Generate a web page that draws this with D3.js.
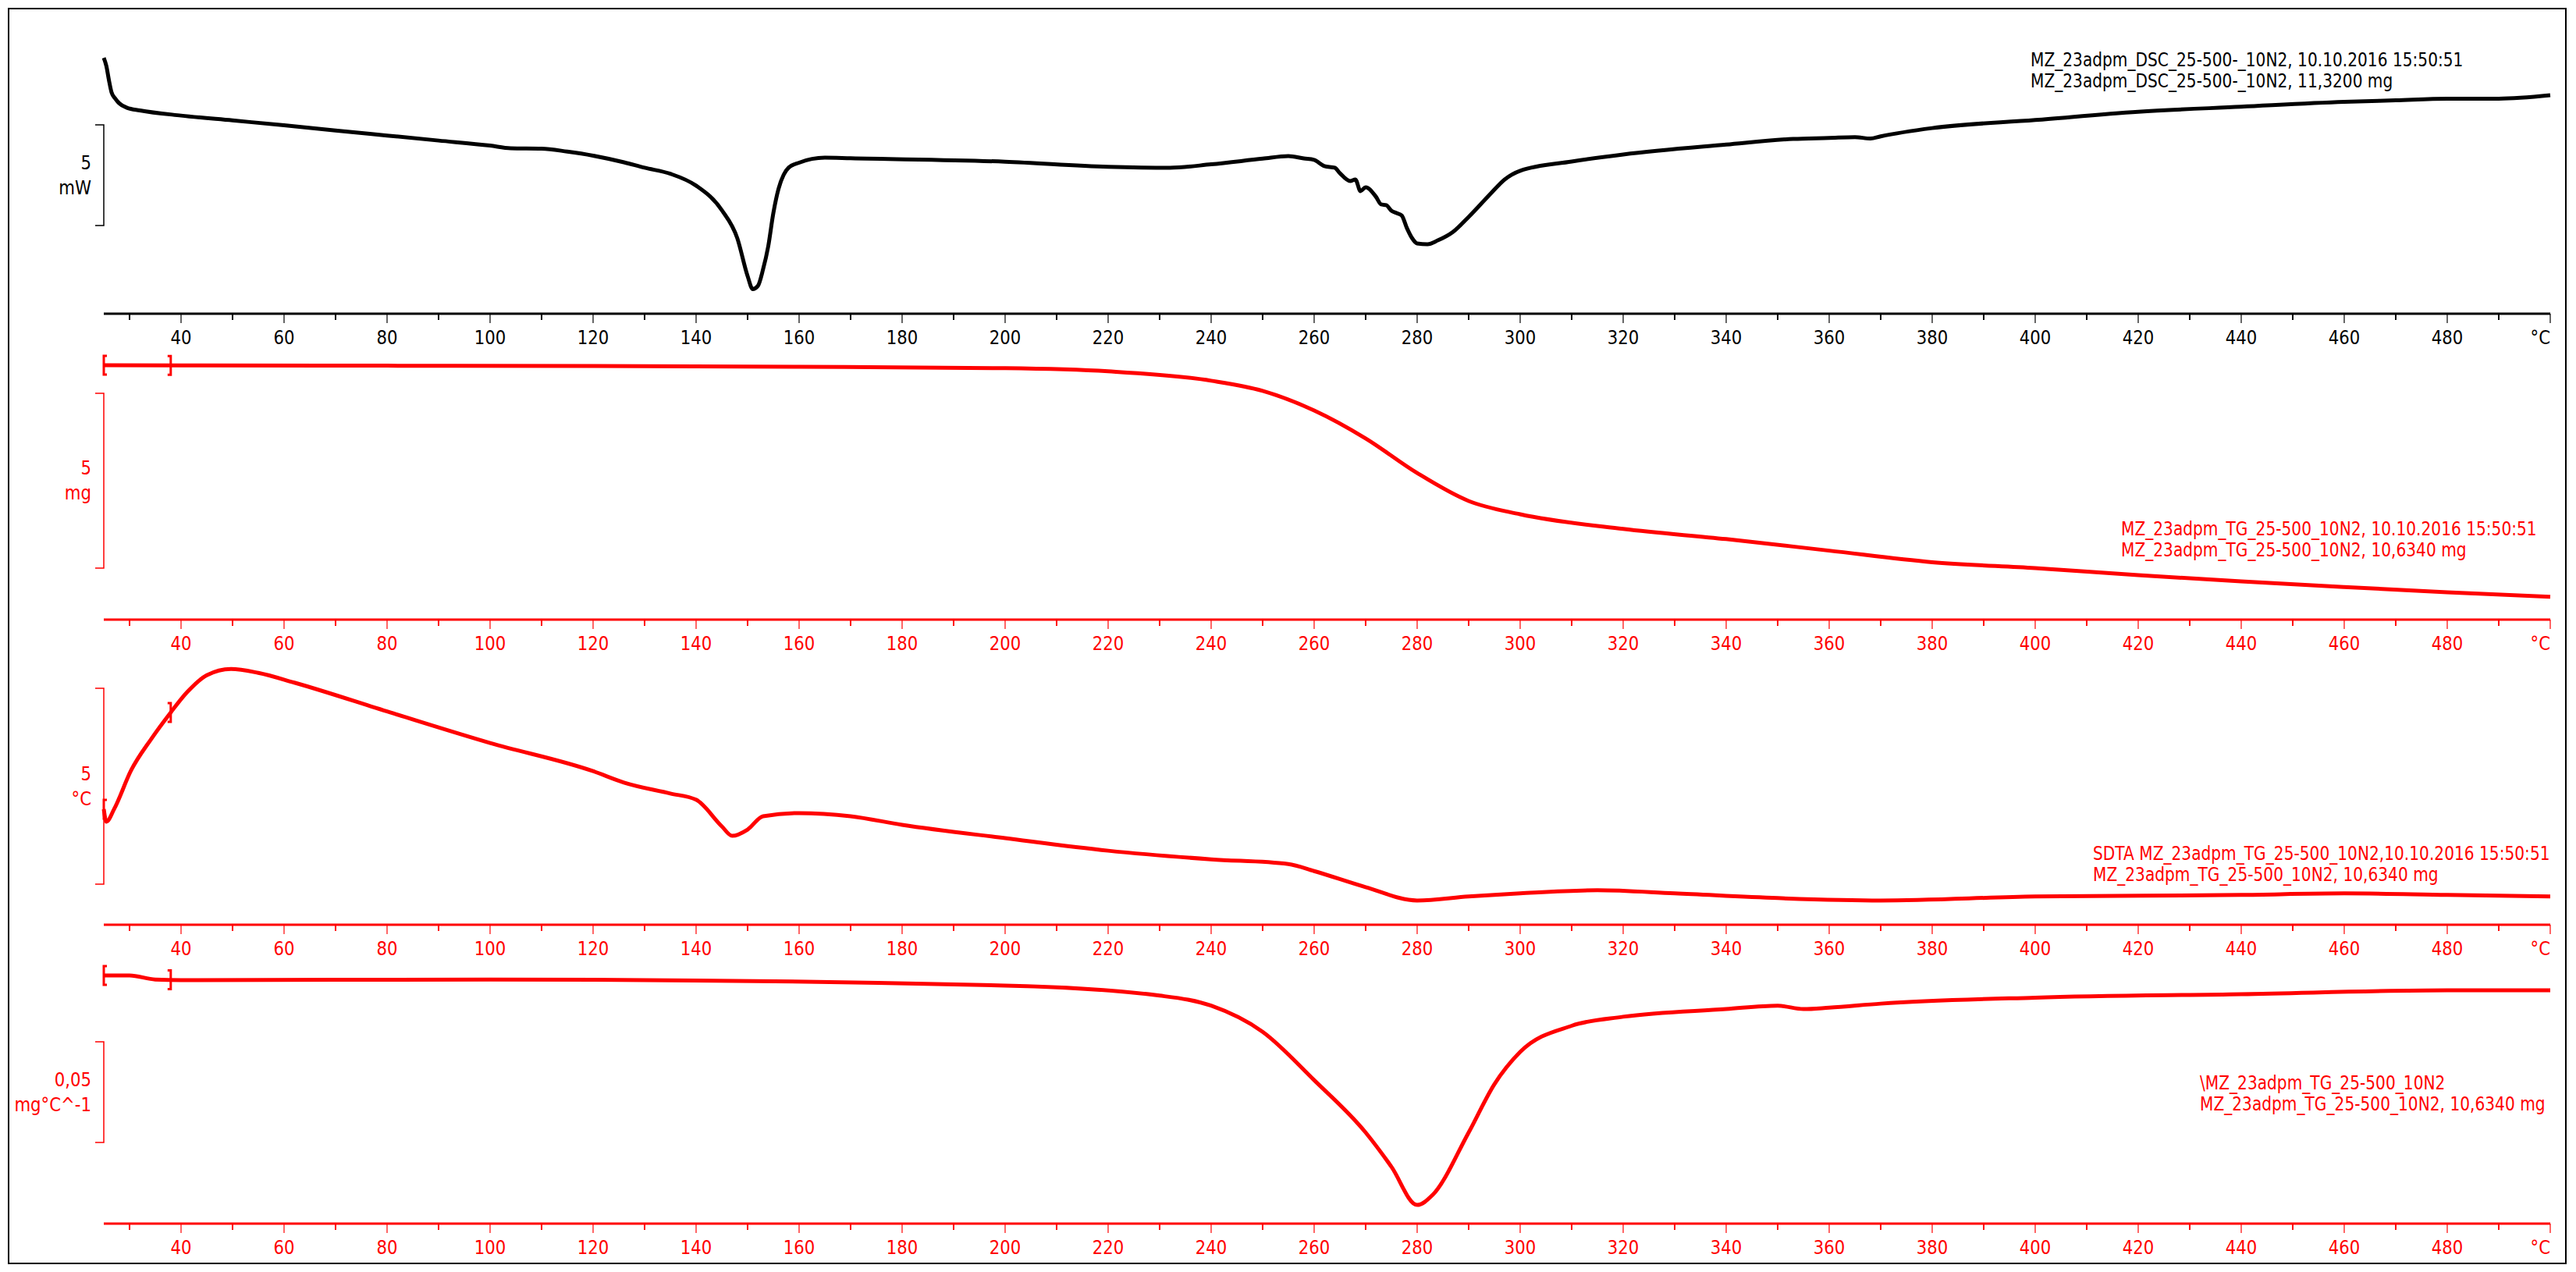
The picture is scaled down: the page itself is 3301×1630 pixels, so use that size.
<!DOCTYPE html>
<html>
<head>
<meta charset="utf-8">
<script src="https://cdn.jsdelivr.net/npm/d3@7"></script>
<style>
  body { margin: 0; background: #fff; }
  text { font-family: "DejaVu Sans", sans-serif; }
</style>
</head>
<body>
<svg id="chart" width="3301" height="1630"></svg>
<script>
// temperature axis
const tempRange = [25, 500];
const majorTicks = d3.range(40, 500, 20);
const minorTicks = d3.range(30, 500, 20);

// DSC heat flow, mW
const dscTemp = [25, 25.5, 26, 26.5, 27.3, 28, 29.5, 32, 40, 50, 60, 70, 80, 90, 100, 104, 110, 115, 120, 126, 130, 135, 140, 145, 148, 150, 151, 152, 153, 154, 155, 156, 157, 158, 160, 165, 170, 200, 220, 232, 240, 250, 255, 258, 260, 262, 264, 265, 267, 268, 269, 270, 272, 273, 274, 275, 276, 277, 278, 279, 280, 282, 284, 287, 290, 294, 297, 300, 310, 320, 340, 353, 360, 365, 368, 370, 380, 400, 420, 440, 460, 470, 480, 490, 500];
const dscValue = [12.71, 12.3, 11.6, 11.0, 10.66, 10.45, 10.23, 10.1, 9.84, 9.6, 9.36, 9.1, 8.85, 8.6, 8.35, 8.22, 8.2, 8.05, 7.85, 7.52, 7.25, 6.95, 6.36, 5.14, 3.75, 1.87, 1.22, 1.38, 2.2, 3.34, 5.0, 6.2, 6.9, 7.26, 7.5, 7.75, 7.72, 7.55, 7.3, 7.25, 7.42, 7.7, 7.83, 7.71, 7.64, 7.33, 7.25, 6.98, 6.59, 6.67, 6.09, 6.28, 5.81, 5.43, 5.39, 5.12, 5.0, 4.88, 4.26, 3.76, 3.49, 3.45, 3.64, 4.07, 4.81, 5.89, 6.67, 7.1, 7.56, 7.91, 8.4, 8.68, 8.73, 8.77, 8.7, 8.81, 9.22, 9.62, 10.03, 10.28, 10.52, 10.6, 10.68, 10.68, 10.85];

// TG mass, mg
const tgTemp = [25, 40, 80, 120, 160, 200, 220, 240, 250, 260, 270, 280, 290, 300, 320, 340, 360, 380, 400, 420, 440, 460, 480, 500];
const tgValue = [10.634, 10.63, 10.62, 10.61, 10.59, 10.55, 10.46, 10.19, 9.9, 9.34, 8.54, 7.55, 6.75, 6.37, 5.95, 5.66, 5.33, 5.0, 4.83, 4.63, 4.45, 4.29, 4.14, 4.01];

// SDTA, °C
const sdtaTemp = [25, 25.5, 27, 30.3, 34.2, 38, 41.2, 45, 49.7, 55, 62, 80.6, 100, 120, 126, 135, 140, 145, 147, 150, 153, 160, 170, 180, 200, 220, 240, 255, 260, 270, 280, 290, 300, 315, 330, 350, 370, 400, 440, 460, 480, 500];
const sdtaValue = [2.95, 2.63, 2.95, 3.94, 4.74, 5.42, 5.94, 6.37, 6.53, 6.43, 6.18, 5.42, 4.64, 3.92, 3.63, 3.35, 3.19, 2.51, 2.27, 2.43, 2.77, 2.85, 2.77, 2.55, 2.21, 1.89, 1.67, 1.55, 1.37, 0.96, 0.62, 0.72, 0.8, 0.88, 0.8, 0.68, 0.62, 0.72, 0.76, 0.8, 0.76, 0.72];

// DTG, mg/°C
const dtgTemp = [25, 30, 35, 40, 100, 200, 230, 240, 250, 260, 270, 275, 280, 283, 290, 295, 300, 310, 320, 340, 350, 355, 360, 370, 400, 440, 480, 500];
const dtgValue = [0, 0, -0.002, -0.0023, -0.002, -0.005, -0.010, -0.015, -0.028, -0.052, -0.078, -0.095, -0.114, -0.109, -0.078, -0.054, -0.038, -0.025, -0.0205, -0.0167, -0.015, -0.0167, -0.016, -0.014, -0.011, -0.0093, -0.0074, -0.0074];

const panels = [
  { temp: dscTemp, val: dscValue, color: "#000", axisY: 402, zeroY: 402, pxPerUnit: 25.8,
    bar: [160, 289], barLabel: ["5", "mW"], brackets: false,
    legend: ["MZ_23adpm_DSC_25-500-_10N2, 10.10.2016 15:50:51", "MZ_23adpm_DSC_25-500-_10N2, 11,3200 mg"], legendX: 2602, legendY: 77 },
  { temp: tgTemp, val: tgValue, color: "#f00", axisY: 794, zeroY: 944.4, pxPerUnit: 44.8,
    bar: [504, 728], barLabel: ["5", "mg"], brackets: true,
    legend: ["MZ_23adpm_TG_25-500_10N2, 10.10.2016 15:50:51", "MZ_23adpm_TG_25-500_10N2, 10,6340 mg"], legendX: 2718, legendY: 678 },
  { temp: sdtaTemp, val: sdtaValue, color: "#f00", axisY: 1185, zeroY: 1185, pxPerUnit: 50.2,
    bar: [882, 1133], barLabel: ["5", "°C"], brackets: true,
    legend: ["SDTA MZ_23adpm_TG_25-500_10N2,10.10.2016 15:50:51", "MZ_23adpm_TG_25-500_10N2, 10,6340 mg"], legendX: 2682, legendY: 1094 },
  { temp: dtgTemp, val: dtgValue, color: "#f00", axisY: 1568, zeroY: 1250, pxPerUnit: 2580,
    bar: [1335, 1464], barLabel: ["0,05", "mg°C^-1"], brackets: true,
    legend: ["\\MZ_23adpm_TG_25-500_10N2", "MZ_23adpm_TG_25-500_10N2, 10,6340 mg"], legendX: 2819, legendY: 1388 }
];

const svg = d3.select("#chart");
const x = d3.scaleLinear().domain(tempRange).range([133, 3268]);

// narrow text, the original uses a condensed face
function addText(g, tx, ty, str, anchor, size, color, sx) {
  return g.append("text")
    .attr("transform", `translate(${tx},${ty}) scale(${sx},1)`)
    .attr("text-anchor", anchor).attr("font-size", size).attr("fill", color).text(str);
}

svg.append("rect").attr("x", 11).attr("y", 11).attr("width", 3277).attr("height", 1608)
  .attr("fill", "none").attr("stroke", "#000").attr("stroke-width", 2);

panels.forEach(p => {
  const y = d3.scaleLinear().domain([0, 1]).range([p.zeroY, p.zeroY - p.pxPerUnit]);
  const g = svg.append("g");

  // x axis
  g.append("line").attr("x1", x(tempRange[0])).attr("x2", x(tempRange[1]))
    .attr("y1", p.axisY).attr("y2", p.axisY).attr("stroke", p.color).attr("stroke-width", 3);
  g.selectAll(".maj").data(majorTicks.concat([500])).enter().append("line")
    .attr("x1", d => x(d)).attr("x2", d => x(d)).attr("y1", p.axisY).attr("y2", p.axisY + 12)
    .attr("stroke", p.color).attr("stroke-width", 1.2);
  g.selectAll(".min").data(minorTicks).enter().append("line")
    .attr("x1", d => x(d)).attr("x2", d => x(d)).attr("y1", p.axisY).attr("y2", p.axisY + 8)
    .attr("stroke", p.color).attr("stroke-width", 2);
  majorTicks.forEach(d => addText(g, x(d), p.axisY + 39, d, "middle", 25, p.color, 0.85));
  addText(g, x(500), p.axisY + 39, "°C", "end", 25, p.color, 0.85);

  // scale bar
  g.append("path").attr("d", `M122,${p.bar[0]}H133V${p.bar[1]}H122`)
    .attr("fill", "none").attr("stroke", p.color).attr("stroke-width", 1.5);
  const mid = (p.bar[0] + p.bar[1]) / 2;
  addText(g, 117, mid - 8, p.barLabel[0], "end", 25, p.color, 0.85);
  addText(g, 117, mid + 24, p.barLabel[1], "end", 25, p.color, 0.85);

  // curve
  const pts = p.temp.map((t, i) => [t, p.val[i]]);
  const line = d3.line().x(d => x(d[0])).y(d => y(d[1])).curve(d3.curveMonotoneX);
  g.append("path").datum(pts).attr("d", line).attr("fill", "none")
    .attr("stroke", p.color).attr("stroke-width", 5).attr("stroke-linejoin", "round");

  // range brackets
  if (p.brackets) {
    const interp = t => y(d3.scaleLinear().domain(p.temp).range(p.val)(t));
    [[25, 1], [38, -1]].forEach(([t, dir]) => {
      const bx = x(t), by = interp(t);
      g.append("path").attr("d", `M${bx + 4 * dir},${by - 12}H${bx}V${by + 12}H${bx + 4 * dir}`)
        .attr("fill", "none").attr("stroke", p.color).attr("stroke-width", 3);
    });
  }

  // legend
  p.legend.forEach((s, i) => addText(g, p.legendX, p.legendY + 8 + i * 27, s, "start", 24, p.color, 0.84));
});
</script>
</body>
</html>
